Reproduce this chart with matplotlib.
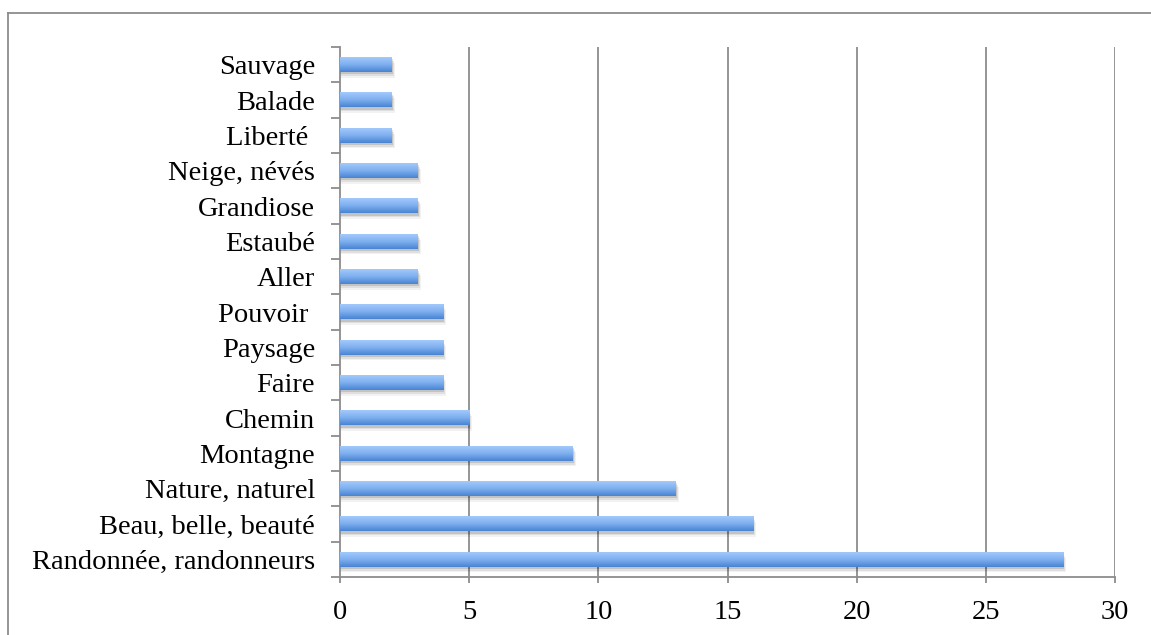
import numpy as np
import matplotlib.pyplot as plt
from matplotlib.colors import LinearSegmentedColormap
from matplotlib.lines import Line2D

# Data (bottom to top)
categories = ["Randonnée, randonneurs", "Beau, belle, beauté", "Nature, naturel",
              "Montagne", "Chemin", "Faire", "Paysage", "Pouvoir ", "Aller",
              "Estaubé", "Grandiose", "Neige, névés", "Liberté ", "Balade", "Sauvage"]
counts = [28, 16, 13, 9, 5, 4, 4, 4, 3, 3, 3, 3, 2, 2, 2]
x_ticks = [0, 5, 10, 15, 20, 25, 30]

W, H = 1151, 635
fig = plt.figure(figsize=(W / 100, H / 100), dpi=100)
plt.rcParams["font.family"] = ["Liberation Serif", "DejaVu Serif"]

ax = fig.add_axes([340 / W, 1 - 577 / H, (1115 - 340) / W, (577 - 47) / H])

grey = "#8c8c8c"
bar_h = 0.42
cmap = LinearSegmentedColormap.from_list("bar", ["#4884d2", "#7eafef", "#a2c9fb"])
grad = np.linspace(0, 1, 64).reshape(-1, 1)

y = np.arange(len(categories))
for yi, v in zip(y, counts):
    # soft shadow, mostly below the bar
    for k, a in enumerate([0.12, 0.08, 0.05]):
        off = 0.06 + 0.05 * k
        ax.barh(yi - off, v + 0.04 * (k + 1), height=bar_h, left=0,
                color="black", alpha=a, linewidth=0, zorder=2)
    ax.imshow(grad, cmap=cmap, aspect="auto", origin="lower",
              extent=(0, v, yi - bar_h / 2, yi + bar_h / 2), zorder=3)

ax.set_xlim(0, 30)
ax.set_ylim(-0.5, len(categories) - 0.5)
ax.set_xticks(x_ticks)
ax.set_yticks(y)
ax.set_yticklabels(categories)
ax.set_yticks(np.arange(-0.5, len(categories), 1), minor=True)

for s in ["top", "right"]:
    ax.spines[s].set_visible(False)
for s in ["left", "bottom"]:
    ax.spines[s].set_color(grey)
    ax.spines[s].set_linewidth(1.3)

ax.tick_params(axis="y", which="major", length=0, pad=18, labelsize=20.5)
ax.tick_params(axis="y", which="minor", length=6.5, width=1.3, color=grey)
ax.tick_params(axis="x", length=4.5, width=1.3, color=grey, pad=12, labelsize=20.5)

for t in x_ticks[1:]:
    ax.axvline(t, color=grey, linewidth=1.3, zorder=1)

# outer chart frame
fig.add_artist(Line2D([8 / W, 1], [1 - 13 / H, 1 - 13 / H], color=grey, linewidth=1.3))
fig.add_artist(Line2D([8 / W, 8 / W], [0, 1 - 13 / H], color=grey, linewidth=1.3))

fig.savefig("out.png", dpi=100)
